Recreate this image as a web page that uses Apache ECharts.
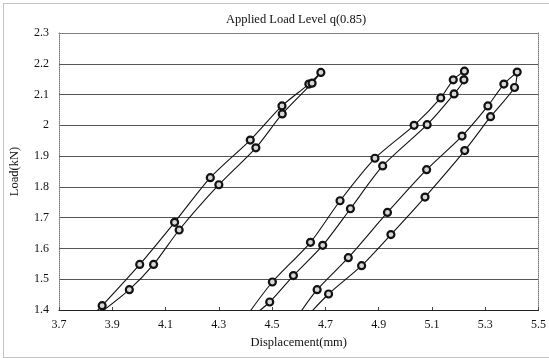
<!DOCTYPE html>
<html>
<head>
<meta charset="utf-8">
<script src="https://cdn.jsdelivr.net/npm/echarts@6/dist/echarts.min.js"></script>
<style>
html,body{margin:0;padding:0;background:#fff;}
#chart{width:549px;height:358px;}
</style>
</head>
<body>
<div id="chart"></div>
<script>
// Tick labels
const xTicks = [3.7, 3.9, 4.1, 4.3, 4.5, 4.7, 4.9, 5.1, 5.3, 5.5];
const yTicks = [1.4, 1.5, 1.6, 1.7, 1.8, 1.9, 2, 2.1, 2.2, 2.3];

// Left cluster (loop: up the left curve, down the right curve)
const cluster1X = [3.822, 3.862, 4.003, 4.134, 4.268, 4.418, 4.537, 4.638, 4.683, 4.650, 4.538, 4.439, 4.300, 4.151, 4.055, 3.964, 3.839];
const cluster1Y = [1.380, 1.414, 1.548, 1.685, 1.830, 1.952, 2.063, 2.134, 2.172, 2.137, 2.037, 1.927, 1.807, 1.660, 1.548, 1.466, 1.380];
const cluster1Mark = [0,1,1,1,1,1,1,1,1,1,1,1,1,1,1,1,0];

// Middle cluster
const cluster2X = [4.404, 4.501, 4.644, 4.755, 4.886, 5.033, 5.133, 5.180, 5.222, 5.220, 5.183, 5.082, 4.915, 4.794, 4.690, 4.580, 4.491, 4.427];
const cluster2Y = [1.380, 1.491, 1.620, 1.755, 1.893, 2.000, 2.089, 2.148, 2.176, 2.148, 2.102, 2.002, 1.868, 1.729, 1.610, 1.512, 1.426, 1.380];
const cluster2Mark = [0,1,1,1,1,1,1,1,1,1,1,1,1,1,1,1,1,0];

// Right cluster
const cluster3X = [4.596, 4.669, 4.786, 4.933, 5.080, 5.213, 5.310, 5.370, 5.420, 5.410, 5.320, 5.223, 5.074, 4.946, 4.836, 4.712, 4.632];
const cluster3Y = [1.380, 1.466, 1.570, 1.717, 1.856, 1.965, 2.063, 2.134, 2.173, 2.123, 2.028, 1.918, 1.767, 1.645, 1.544, 1.452, 1.380];
const cluster3Mark = [0,1,1,1,1,1,1,1,1,1,1,1,1,1,1,1,0];

function build(xs, ys, marks) {
  return xs.map((x, i) => marks[i]
    ? { value: [x, ys[i]] }
    : { value: [x, ys[i]], symbol: 'none' });
}

const FONT = "'Liberation Serif', 'DejaVu Serif', serif";
const chart = echarts.init(document.getElementById('chart'), null, { renderer: 'canvas' });

function lineSeries(data) {
  return {
    type: 'line',
    data: data,
    smooth: 0.25,
    clip: true,
    symbol: 'circle',
    symbolSize: 7,
    showSymbol: true,
    lineStyle: { color: '#111', width: 1.1 },
    itemStyle: { color: '#d8d8d8', borderColor: '#111', borderWidth: 2.2 },
    emphasis: { disabled: true },
    animation: false,
    z: 3
  };
}

const option = {
  animation: false,
  backgroundColor: '#fff',
  title: {
    text: 'Applied Load Level q(0.85)',
    left: 291,
    textAlign: 'center',
    top: 8,
    textStyle: { fontFamily: FONT, fontSize: 12.5, fontWeight: 'normal', color: '#111' }
  },
  grid: { left: 58, right: 9, top: 33, bottom: 48, containLabel: false },
  xAxis: [{
    type: 'value',
    min: 3.7, max: 5.5, interval: 0.2,
    name: 'Displacement(mm)',
    nameLocation: 'middle',
    nameGap: 25,
    nameTextStyle: { fontFamily: FONT, fontSize: 12.5, color: '#111' },
    axisLine: { show: true, onZero: false, lineStyle: { color: '#222', width: 1 } },
    axisTick: { show: true, inside: true, length: 3, lineStyle: { color: '#444' } },
    axisLabel: {
      margin: 9, fontFamily: FONT, fontSize: 12, color: '#111',
      formatter: v => { const t = xTicks.find(a => Math.abs(a - v) < 1e-6); return t !== undefined ? t.toFixed(1) : ''; }
    },
    splitLine: { show: false }
  }, {
    type: 'value', position: 'top',
    min: 3.7, max: 5.5,
    axisLine: { show: true, onZero: false, lineStyle: { color: '#888', type: 'dotted', width: 1 } },
    axisTick: { show: false }, axisLabel: { show: false }, splitLine: { show: false }
  }],
  yAxis: [{
    type: 'value',
    min: 1.4, max: 2.3, interval: 0.1,
    name: 'Load(kN)',
    nameLocation: 'middle',
    nameGap: 38,
    nameTextStyle: { fontFamily: FONT, fontSize: 12.5, color: '#111' },
    axisLine: { show: true, onZero: false, lineStyle: { color: '#777', type: 'dotted', width: 1 } },
    axisTick: { show: false },
    axisLabel: {
      margin: 10, fontFamily: FONT, fontSize: 12, color: '#111',
      formatter: v => { const t = yTicks.find(a => Math.abs(a - v) < 1e-6); return t !== undefined ? String(t) : ''; }
    },
    splitLine: { show: true, lineStyle: { color: '#555', width: 1 } }
  }, {
    type: 'value', position: 'right',
    min: 1.4, max: 2.3,
    axisLine: { show: true, onZero: false, lineStyle: { color: '#777', type: 'dotted', width: 1 } },
    axisTick: { show: false }, axisLabel: { show: false }, splitLine: { show: false }
  }],
  graphic: [{
    type: 'rect',
    left: 1, top: 1,
    shape: { width: 546, height: 354 },
    style: { fill: 'none', stroke: '#888', lineWidth: 1, lineDash: [1, 1] },
    silent: true
  }],
  series: [
    lineSeries(build(cluster1X, cluster1Y, cluster1Mark)),
    lineSeries(build(cluster2X, cluster2Y, cluster2Mark)),
    lineSeries(build(cluster3X, cluster3Y, cluster3Mark))
  ]
};
chart.setOption(option);
</script>
</body>
</html>
